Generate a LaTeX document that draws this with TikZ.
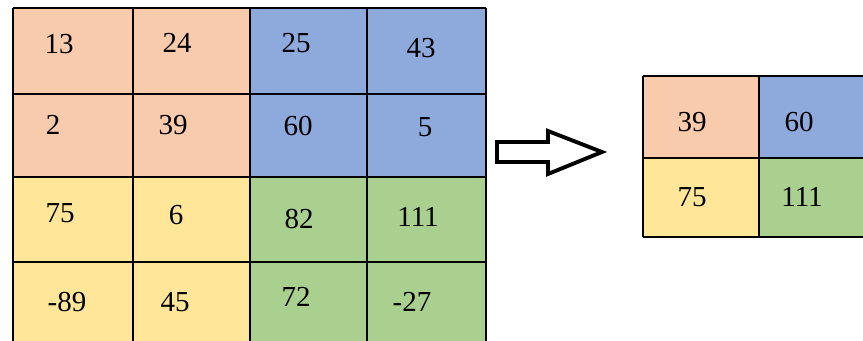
\documentclass[tikz,border=0pt]{standalone}
\usepackage{fontspec}
\setmainfont{Liberation Serif}

\definecolor{peach}{HTML}{F8CBAD}
\definecolor{steel}{HTML}{8EA9DB}
\definecolor{straw}{HTML}{FFE699}
\definecolor{leaf}{HTML}{A9D08E}

\tikzset{
  gridline/.style={draw=black, line width=0.8pt},
  num/.style={font=\fontsize{16.5}{16.5}\selectfont, inner sep=0pt},
}

\begin{document}
\begin{tikzpicture}[x=0.02cm, y=-0.02cm]
\useasboundingbox (0,0) rectangle (863,341);

% input map, four quadrants
\fill[peach] (13,8) rectangle (250,177);
\fill[steel] (250,8) rectangle (486,177);
\fill[straw] (13,177) rectangle (250,347);
\fill[leaf] (250,177) rectangle (486,347);
\foreach \x in {13,133,250,367,486}
  \draw[gridline] (\x,8) -- (\x,347);
\foreach \y in {8,94,177,262,347}
  \draw[gridline] (13,\y) -- (486,\y);

\foreach \v/\x/\y [count=\i] in {13/59/44, 24/177/43, 25/296/43, 43/421/48,
    2/53/125, 39/173/125, 60/298/126, 5/425/127,
    75/60/213, 6/176/215, 82/299/219, 111/418/217,
    -89/67/302, 45/175/302, 72/296/297, -27/412/302}
  \node[num] (in\i) at (\x,\y) {\v};

% hollow arrow
\draw[line width=2.2pt, fill=white, line join=miter]
  (497,142) -- (548,142) -- (548,131) -- (602,152) -- (548,174) -- (548,162)
  -- (497,162) -- cycle;

% pooled map
\fill[peach] (643,76) rectangle (759,158);
\fill[steel] (759,76) rectangle (875,158);
\fill[straw] (643,158) rectangle (759,237);
\fill[leaf] (759,158) rectangle (875,237);
\foreach \x in {643,759,875}
  \draw[gridline] (\x,76) -- (\x,237);
\foreach \y in {76,158,237}
  \draw[gridline] (643,\y) -- (875,\y);

\node[num] (out1) at (692,122) {39};
\node[num] (out2) at (799,122) {60};
\node[num] (out3) at (692,197) {75};
\node[num] (out4) at (802,197) {111};
\end{tikzpicture}
\end{document}
